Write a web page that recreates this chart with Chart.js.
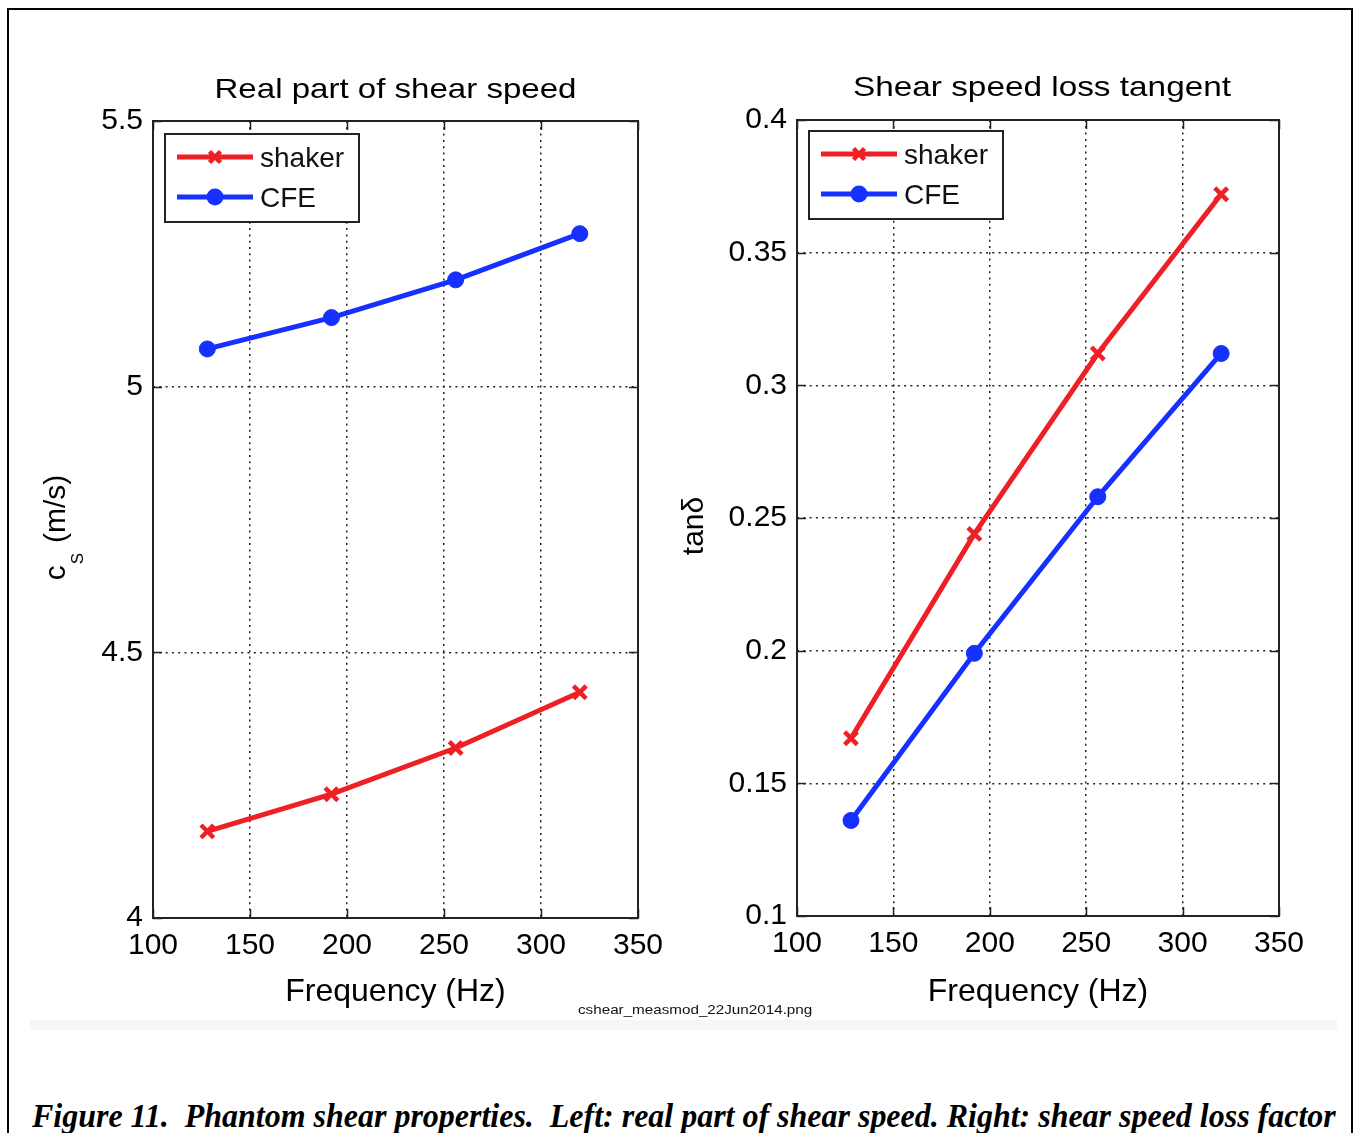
<!DOCTYPE html>
<html><head><meta charset="utf-8">
<script src="https://cdn.jsdelivr.net/npm/chart.js@4.4.1/dist/chart.umd.min.js"></script>
<style>
html,body{margin:0;padding:0;background:#fff;width:1360px;height:1133px;overflow:hidden;}
body{position:relative;}
#frame{position:absolute;left:7px;top:8px;width:1346px;height:1200px;border:2px solid #000;box-sizing:border-box;}
#strip{position:absolute;left:30px;top:1020px;width:1307px;height:10px;background:#f6f6f6;}
#c1{position:absolute;left:0;top:0;}
#c2{position:absolute;left:660px;top:0;}
#fname{position:absolute;left:578px;top:1002px;font:13px 'Liberation Sans',sans-serif;color:#111;transform-origin:0 0;white-space:pre;}
#caption{position:absolute;left:32px;top:1100px;font:italic bold 33px/33px 'Liberation Serif',serif;white-space:pre;transform-origin:0 0;color:#000;}
</style></head>
<body>
<div id="strip"></div>
<div id="frame"></div>
<canvas id="c1" width="680" height="1030"></canvas>
<canvas id="c2" width="700" height="1030"></canvas>
<div id="fname">cshear_measmod_22Jun2014.png</div>
<div id="caption">Figure 11.  Phantom shear properties.  Left: real part of shear speed. Right: shear speed loss factor</div>
<script>
// ---- data ----
const freqHz = [128, 192, 256, 320];
const shakerSpeed = [4.163, 4.233, 4.320, 4.425];
const cfeSpeed = [5.071, 5.130, 5.201, 5.288];
const shakerTan = [0.167, 0.244, 0.312, 0.372];
const cfeTan = [0.136, 0.199, 0.258, 0.312];
const freqTicks = [100, 150, 200, 250, 300, 350];
const speedTicks = [4, 4.5, 5, 5.5];
const tanTicks = [0.1, 0.15, 0.2, 0.25, 0.3, 0.35, 0.4];
const seriesNames = ['shaker', 'CFE'];
const leftTitle = 'Real part of shear speed';
const rightTitle = 'Shear speed loss tangent';
const xLabel = 'Frequency (Hz)';

const RED = '#ee1f25';
const BLUE = '#1530ff';
const FONT = "'Liberation Sans', Arial, sans-serif";

const matlabPlugin = {
  id: 'matlab',
  beforeDatasetsDraw(chart, args, o) {
    const ctx = chart.ctx, a = chart.chartArea;
    const xs = chart.scales.x, ys = chart.scales.y;
    ctx.save();
    ctx.strokeStyle = '#222';
    ctx.lineWidth = 1.5;
    const L = 9;
    ctx.beginPath();
    xs.ticks.forEach(t => {
      const p = Math.round(xs.getPixelForValue(t.value)) + 0.5;
      ctx.moveTo(p, a.bottom); ctx.lineTo(p, a.bottom - L);
      ctx.moveTo(p, a.top); ctx.lineTo(p, a.top + L);
    });
    ys.ticks.forEach(t => {
      const p = Math.round(ys.getPixelForValue(t.value)) + 0.5;
      ctx.moveTo(a.left, p); ctx.lineTo(a.left + L, p);
      ctx.moveTo(a.right, p); ctx.lineTo(a.right - L, p);
    });
    ctx.stroke();
    ctx.lineWidth = 2;
    ctx.strokeRect(a.left, a.top, a.right - a.left, a.bottom - a.top);
    ctx.restore();
  },
  afterDraw(chart, args, o) {
    const ctx = chart.ctx, a = chart.chartArea;
    ctx.save();
    // title
    ctx.fillStyle = '#000';
    ctx.font = '28px ' + FONT;
    ctx.textAlign = 'center';
    ctx.textBaseline = 'alphabetic';
    const cx = (a.left + a.right) / 2 + (o.titleDx || 0);
    const tw = ctx.measureText(o.title).width;
    ctx.save();
    ctx.translate(cx, a.top - o.titleUp);
    ctx.scale(o.titleWidth / tw, 1);
    ctx.fillText(o.title, 0, 0);
    ctx.restore();

    // y label
    ctx.save();
    ctx.translate(o.ylabelX, (a.top + a.bottom) / 2 + 8);
    ctx.rotate(-Math.PI / 2);
    ctx.textAlign = 'left';
    ctx.textBaseline = 'alphabetic';
    const parts = o.ylabel;
    let total = 0;
    parts.forEach(p => { ctx.font = p.size + 'px ' + FONT; p.w = ctx.measureText(p.text).width; total += p.w + (p.gap || 0); });
    let x = -total / 2;
    parts.forEach(p => {
      ctx.font = p.size + 'px ' + FONT;
      ctx.fillText(p.text, x, p.dy || 0);
      x += p.w + (p.gap || 0);
    });
    ctx.restore();

    // legend
    const bx = a.left + 12, by = a.top + o.legendTop, bw = 194, bh = 88;
    ctx.fillStyle = '#fff';
    ctx.fillRect(bx, by, bw, bh);
    ctx.strokeStyle = '#222';
    ctx.lineWidth = 2;
    ctx.strokeRect(bx, by, bw, bh);
    chart.data.datasets.forEach((ds, i) => {
      const ly = by + 23 + i * 40;
      ctx.strokeStyle = ds.borderColor;
      ctx.fillStyle = ds.borderColor;
      ctx.lineWidth = 5;
      ctx.beginPath();
      ctx.moveTo(bx + 12, ly); ctx.lineTo(bx + 88, ly);
      ctx.stroke();
      const mx = bx + 50;
      if (ds.pointStyle === 'circle') {
        ctx.beginPath(); ctx.arc(mx, ly, 8.5, 0, Math.PI * 2); ctx.fill();
      } else {
        ctx.lineWidth = 4.5;
        ctx.beginPath();
        ctx.moveTo(mx - 5.5, ly - 5.5); ctx.lineTo(mx + 5.5, ly + 5.5);
        ctx.moveTo(mx - 5.5, ly + 5.5); ctx.lineTo(mx + 5.5, ly - 5.5);
        ctx.stroke();
      }
      ctx.fillStyle = '#111';
      ctx.font = '28px ' + FONT;
      ctx.textAlign = 'left';
      ctx.textBaseline = 'middle';
      ctx.fillText(ds.label, bx + 95, ly + 2);
    });
    ctx.restore();
  }
};

function tickSetter(arr) {
  return s => { s.ticks = arr.map(v => ({ value: v })); };
}
const tickFmt = v => String(+Number(v).toFixed(3));

function makeChart(id, cfg) {
  const mk = (name, ys, color, style) => ({
    label: name,
    data: freqHz.map((f, i) => ({ x: f, y: ys[i] })),
    borderColor: color, backgroundColor: color,
    pointBackgroundColor: color, pointBorderColor: color,
    borderWidth: 5, tension: 0,
    pointStyle: style,
    pointRadius: style === 'circle' ? 8 : 9,
    pointBorderWidth: style === 'circle' ? 1 : 4.5,
  });
  return new Chart(document.getElementById(id), {
    type: 'line',
    data: { datasets: [mk(seriesNames[0], cfg.shaker, RED, 'crossRot'), mk(seriesNames[1], cfg.cfe, BLUE, 'circle')] },
    options: {
      responsive: false, animation: false, devicePixelRatio: 1,
      layout: { padding: { top: cfg.top, right: cfg.right, left: 0, bottom: 0 } },
      plugins: {
        legend: { display: false }, tooltip: { enabled: false }, title: { display: false },
        matlab: cfg.plugin
      },
      scales: {
        x: {
          type: 'linear', min: 100, max: 350,
          afterBuildTicks: tickSetter(freqTicks),
          afterFit: s => { s.height = cfg.xh; },
          ticks: { color: '#000', font: { family: FONT, size: 30 }, padding: 10, maxRotation: 0, autoSkip: false, callback: tickFmt },
          grid: { color: '#222', lineWidth: 1.5, drawTicks: false },
          border: { display: false, dash: [2, 4.3] },
          title: { display: true, text: xLabel, color: '#000', font: { family: FONT, size: 32 }, padding: { top: 0, bottom: 19 } }
        },
        y: {
          type: 'linear', min: cfg.ymin, max: cfg.ymax,
          afterBuildTicks: tickSetter(cfg.yticks),
          afterFit: s => { s.width = cfg.yw; },
          ticks: { color: '#000', font: { family: FONT, size: 30 }, padding: 10, autoSkip: false, callback: tickFmt },
          grid: { color: '#222', lineWidth: 1.5, drawTicks: false },
          border: { display: false, dash: [2, 4.3] }
        }
      }
    },
    plugins: [matlabPlugin]
  });
}

makeChart('c1', {
  shaker: shakerSpeed, cfe: cfeSpeed, ymin: 4, ymax: 5.5, yticks: speedTicks,
  top: 121, right: 42, xh: 112, yw: 153,
  plugin: {
    title: leftTitle, titleUp: 23, titleWidth: 362, titleDx: 0, legendTop: 13, ylabelX: 65,
    ylabel: [{ text: 'c', size: 30, gap: 1 }, { text: 'S', size: 17, dy: 18, gap: 10 }, { text: '(m/s)', size: 30 }]
  }
});
makeChart('c2', {
  shaker: shakerTan, cfe: cfeTan, ymin: 0.1, ymax: 0.4, yticks: tanTicks,
  top: 120, right: 81, xh: 114, yw: 137,
  plugin: {
    title: rightTitle, titleUp: 24, titleWidth: 378, titleDx: 4, legendTop: 11, ylabelX: 43,
    ylabel: [{ text: 'tanδ', size: 30 }]
  }
});

function fit(id, target) {
  const el = document.getElementById(id);
  const w = el.offsetWidth;
  el.style.transform = 'scaleX(' + (target / w) + ')';
}
fit('caption', 1304);
fit('fname', 234);
</script>
</body></html>
